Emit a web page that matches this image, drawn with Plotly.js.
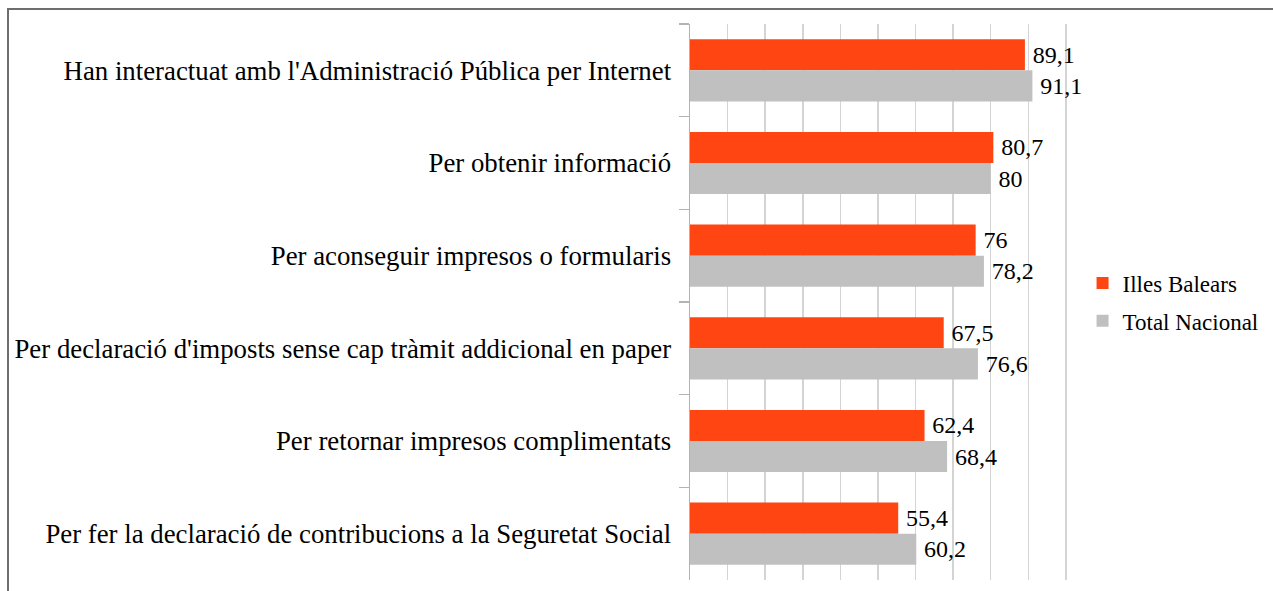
<!DOCTYPE html>
<html>
<head>
<meta charset="utf-8">
<script src="https://cdn.plot.ly/plotly-3.0.1.min.js"></script>
<style>
html,body{margin:0;padding:0;background:#fff;overflow:hidden;}
#wrap{position:relative;width:1273px;height:591px;}
#chart{position:absolute;left:0;top:0;width:1273px;height:591px;}
#frame{position:absolute;left:7px;top:8px;width:2000px;height:2000px;border-left:2px solid #6e6e6e;border-top:2px solid #6e6e6e;pointer-events:none;}
</style>
</head>
<body>
<div id="wrap"><div id="chart"></div><div id="frame"></div></div>
<script>
const categories = [
  "Han interactuat amb l'Administració Pública per Internet",
  "Per obtenir informació",
  "Per aconseguir impresos o formularis",
  "Per declaració d'imposts sense cap tràmit addicional en paper",
  "Per retornar impresos complimentats",
  "Per fer la declaració de contribucions a la Seguretat Social"
];
const illesBalears = [89.1, 80.7, 76, 67.5, 62.4, 55.4];
const totalNacional = [91.1, 80, 78.2, 76.6, 68.4, 60.2];
const seriesNames = ["Illes Balears", "Total Nacional"];

const fmt = v => '\u2009' + String(v).replace('.', ',');
const FONT = "Liberation Serif, Times New Roman, serif";

const traces = [
  {
    type: 'bar', orientation: 'h', name: seriesNames[0], legendgroup: 'a',
    y: categories, x: illesBalears,
    text: illesBalears.map(fmt), textposition: 'outside',
    textfont: {family: FONT, size: 24, color: '#000'},
    marker: {color: '#ff4512'}, cliponaxis: false, hoverinfo: 'x+name'
  },
  {
    type: 'bar', orientation: 'h', name: seriesNames[1], legendgroup: 'b',
    y: categories, x: totalNacional,
    text: totalNacional.map(fmt), textposition: 'outside',
    textfont: {family: FONT, size: 24, color: '#000'},
    marker: {color: '#c0c0c0'}, cliponaxis: false, hoverinfo: 'x+name'
  }
];

const layout = {
  width: 1273, height: 591,
  margin: {l: 690, r: 206, t: 24, b: 11, pad: 0, autoexpand: false},
  paper_bgcolor: '#fff', plot_bgcolor: '#fff',
  font: {family: FONT, size: 22, color: '#000'},
  barmode: 'group', bargap: 0.33, bargroupgap: 0,
  showlegend: true,
  legend: {xref: 'container', x: 0.8504, xanchor: 'left', y: 0.5, yanchor: 'middle',
           font: {family: FONT, size: 23, color: '#000'}, traceorder: 'grouped', tracegroupgap: 5,
           bgcolor: 'rgba(0,0,0,0)', itemwidth: 30},
  xaxis: {range: [0, 100.3], tick0: 0, dtick: 10, showgrid: true, gridcolor: '#d4d4d4', gridwidth: 1.5,
          zeroline: false, showline: false, showticklabels: false, ticks: '', fixedrange: true},
  yaxis: {autorange: 'reversed', type: 'category', showline: true, linecolor: '#b3b3b3', linewidth: 1.5,
          ticks: 'outside', tickson: 'boundaries', ticklen: 10, tickcolor: '#b3b3b3', tickwidth: 1.5,
          showgrid: false, ticklabelstandoff: 12,
          tickfont: {family: FONT, size: 26.8, color: '#000'}, fixedrange: true}
};

Plotly.newPlot('chart', traces, layout, {displayModeBar: false, staticPlot: true});
</script>
</body>
</html>
